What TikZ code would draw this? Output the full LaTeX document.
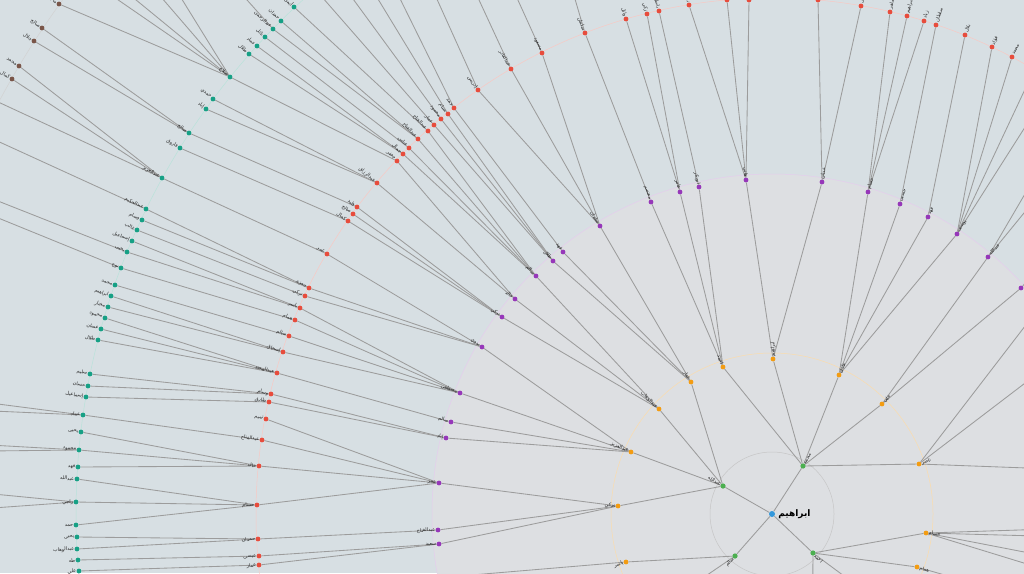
\documentclass[tikz,border=0pt]{standalone}
\usepackage{fontspec}
\usepackage{tikz}
\newfontfamily\arabicfont[Script=Arabic]{DejaVu Sans}
\TeXXeTstate=1
\definecolor{TreeBg}{RGB}{215,223,227}
\definecolor{TreeInner}{RGB}{221,223,226}
\definecolor{TreeEdge}{RGB}{156,156,156}
\definecolor{TreeRoot}{RGB}{52,152,219}
\definecolor{TreeGreen}{RGB}{76,175,80}
\definecolor{TreeOrange}{RGB}{243,156,18}
\definecolor{TreePurple}{RGB}{150,55,185}
\definecolor{TreeRed}{RGB}{231,76,60}
\definecolor{TreeTeal}{RGB}{22,160,133}
\definecolor{TreeBrown}{RGB}{121,85,72}
\pgfdeclarelayer{rings}
\pgfdeclarelayer{links}
\pgfsetlayers{rings,links,main}
\def\treecx{772}
\def\treecy{514}
% name label, turned away from the root
\newcommand\treelabel[4]{%
  \pgfmathsetmacro\lblang{atan2(\treecy-(#3),(#2)-\treecx)}%
  \pgfmathtruncatemacro\lblleft{abs(\lblang)>90}%
  \ifnum\lblleft=1
    \pgfmathsetmacro\lblrot{\lblang+180}%
    \node[namelbl, rotate=\lblrot, anchor=east] (#1-l) at (#1) {\beginR #4\endR};%
  \else
    \node[namelbl, rotate=\lblang, anchor=west] (#1-l) at (#1) {\beginR #4\endR};%
  \fi}

\begin{document}
\begin{tikzpicture}[x=1pt, y=-1pt,
    treedot/.style={circle, fill=#1, draw=none, inner sep=0pt, minimum size=4.8pt},
    link/.style={draw=TreeEdge, line width=0.85pt},
    namelbl/.style={font=\arabicfont\fontsize{4.9}{5.5}\selectfont, text=black!85, inner sep=0.3pt, outer sep=2.5pt},
    ringline/.style={draw=#1, line width=0.5pt}
  ]
  \useasboundingbox (0,0) rectangle (1024,573);
  \node[treedot=TreeRoot, minimum size=6pt] (c) at (\treecx,\treecy) {};
  \node[font=\arabicfont\bfseries\fontsize{9}{10}\selectfont, anchor=west, inner sep=0.5pt] (c-l) at ([xshift=2.5pt]c.east) {\beginR ابراهيم\endR};

  % rings
  \begin{pgfonlayer}{rings}
    \fill[TreeBg] (0,0) rectangle (1024,573);
    \fill[TreeInner] (c) circle[radius=340pt];
    \draw[ringline=white!70!gray] (c) circle[radius=5.5pt];
    \draw[ringline=gray!45] (c) circle[radius=62pt];
    \draw[ringline=TreeOrange!35] (c) circle[radius=161pt];
    \draw[ringline=TreePurple!25] (c) circle[radius=340pt];
    \draw[ringline=TreeRed!30] (c) circle[radius=516pt];
    \draw[ringline=TreeTeal!30] (c) circle[radius=696pt];
    \draw[ringline=gray!35] (c) circle[radius=876pt];
  \end{pgfonlayer}

  % level 1
  \foreach \n/\x/\y/\nm in {g1/803/466/محمد, g2/723/486/عبدالله, g3/735/556/سالم, g4/813/553/احمد}{
    \node[treedot=TreeGreen, minimum size=5.2pt] (\n) at (\x,\y) {};
    \treelabel{\n}{\x}{\y}{\nm}
    \begin{pgfonlayer}{links}\draw[link] (c) -- (\n);\end{pgfonlayer}
  }

  % level 2
  \foreach \n/\x/\y/\nm/\up in {o1/626/562/ياسر/g3, o2/618/506/تركي/g2, o3/631/452/عبدالعزيز/g2,
      o4/659/409/عبدالوهاب/g2, o5/691/382/عمار/g2, o6/723/367/احمد/g1, o7/773/359/ابراهيم/g1,
      o8/839/375/عادل/g1, o9/882/404/علي/g1, o10/919/464/ناصر/g1, o11/926/533/حسام/g4,
      o12/917/567/همام/g4}{
    \node[treedot=TreeOrange] (\n) at (\x,\y) {};
    \treelabel{\n}{\x}{\y}{\nm}
    \begin{pgfonlayer}{links}\draw[link] (\up) -- (\n);\end{pgfonlayer}
  }
  \foreach \n/\x/\y/\up in {o13/812/674/g4, o14/894/613/g4, o15/650/614/g3}{
    \node[treedot=TreeOrange] (\n) at (\x,\y) {};
    \begin{pgfonlayer}{links}\draw[link] (\up) -- (\n);\end{pgfonlayer}
  }

  % level 3
  \foreach \n/\x/\y/\nm/\up in {p1/439/544/سعيد/o2, p2/438/530/عبدالفتاح/o2, p3/439/483/عمر/o2,
      p4/446/438/إياد/o3, p5/451/422/سالم/o3, p6/460/393/مصطفى/o3, p7/482/347/بدوي/o3,
      p8/502/317/تركي/o4, p9/515/299/خالد/o4, p10/536/276/سالم/o4,
      p11/553/261/طلال/o5, p12/563/252/فهد/o5, p13/600/226/سلمان/o5,
      p14/651/202/معتصم/o6, p15/680/192/عامر/o6, p16/699/187/ابوبكر/o6,
      p17/746/180/هاني/o7, p18/822/182/عدنان/o7,
      p19/868/192/حسام/o8, p20/900/204/حسين/o8, p21/928/217/فهد/o8, p22/957/234/يوسف/o8,
      p23/988/257/عبدالله/o9}{
    \node[treedot=TreePurple] (\n) at (\x,\y) {};
    \treelabel{\n}{\x}{\y}{\nm}
    \begin{pgfonlayer}{links}\draw[link] (\up) -- (\n);\end{pgfonlayer}
  }
  \foreach \n/\x/\y/\up in {p24/1021/288/o9, p25/1042/304/o10, p26/1071/348/o10, p27/1108/471/o10,
      p28/1112/527/o11, p29/1112/538/o11, p30/1107/568/o11, p31/1102/587/o11,
      p32/1100/620/o12, p33/436/578/o1}{
    \node[treedot=TreePurple] (\n) at (\x,\y) {};
    \begin{pgfonlayer}{links}\draw[link] (\up) -- (\n);\end{pgfonlayer}
  }

  % level 4
  \foreach \n/\x/\y/\nm/\up in {r1/259/565/عمار/p1, r2/259/556/عيسى/p1, r3/258/539/حمدان/p2,
      r4/257/505/حسام/p3, r5/259/466/خالد/p3, r6/262/440/عبدالفتاح/p3, r7/266/419/تميم/p3,
      r8/269/402/طارق/p4, r9/271/394/وسام/p4, r10/277/373/عبدالمجيد/p5,
      r11/283/352/إسحاق/p6, r12/289/336/سالم/p6, r13/295/320/همام/p6, r14/300/308/ياسر/p6,
      r15/305/296/تركي/p7, r16/309/288/حمزة/p7, r17/327/254/عمر/p7,
      r18/348/221/كمال/p8, r19/353/214/صالح/p8, r20/357/207/وليد/p8,
      r21/377/183/عبدالرزاق/p9, r22/397/161/جعفر/p9,
      r23/403/154/جمال/p10, r24/409/148/عباس/p10, r25/418/139/عبدالفتاح/p10, r26/428/131/عبدالفتاح/p10,
      r27/434/125/عمار/p11, r28/441/119/محمود/p11, r29/448/114/بسام/p11, r30/454/108/حمد/p12,
      r31/478/90/إدريس/p13, r32/511/69/عبدالقادر/p13, r33/542/53/مسعود/p13,
      r34/585/33/سلمان/p14, r35/626/19/وائل/p15, r36/647/14/زكي/p15, r37/659/11/باسل/p16,
      r38/689/5/نبيل/p17, r39/727/0/شادي/p17, r40/749/0/رامي/p17,
      r41/818/0/منير/p18, r42/861/6/خليل/p18,
      r43/890/12/ماهر/p19, r44/907/16/ابراهيم/p19, r45/924/21/زياد/p19,
      r46/936/25/سلطان/p20, r47/965/35/بلال/p21, r48/992/47/فؤاد/p22, r49/1012/57/محمد/p22}{
    \node[treedot=TreeRed] (\n) at (\x,\y) {};
    \treelabel{\n}{\x}{\y}{\nm}
    \begin{pgfonlayer}{links}\draw[link] (\up) -- (\n);\end{pgfonlayer}
  }
  \foreach \n/\x/\y/\up in {r50/1035/68/p22, r51/1055/80/p22, r52/1080/100/p23, r53/1100/120/p23,
      r54/1140/150/p24}{
    \node[treedot=TreeRed] (\n) at (\x,\y) {};
    \begin{pgfonlayer}{links}\draw[link] (\up) -- (\n);\end{pgfonlayer}
  }

  % level 5
  \foreach \n/\x/\y/\nm/\up in {t1/294/7/أيمن/r26, t2/281/21/حمدان/r25, t3/273/29/عبدالرحمن/r25,
      t4/265/37/نائل/r24, t5/257/46/عماد/r23, t6/249/54/طلال/r23, t7/230/77/صلاح/r22,
      t8/213/99/حمدي/r21, t9/206/109/إياد/r21, t10/189/133/صالح/r20, t11/180/148/فاروق/r18,
      t12/162/178/عبدالعزيز/r17, t13/146/209/عبدالحكيم/r16, t14/142/220/وسام/r16,
      t15/137/230/غالب/r15, t16/132/241/إسماعيل/r14, t17/127/252/يحيى/r14, t18/121/268/نوح/r13,
      t19/115/285/محمد/r12, t20/111/296/ابراهيم/r11, t21/108/307/مختار/r11,
      t22/105/318/محمود/r10, t23/101/329/غسان/r10, t24/98/340/طلال/r10,
      t25/90/374/سليم/r9, t26/88/386/حسان/r9, t27/86/397/إسماعيل/r8, t28/83/415/عماد/r6,
      t29/81/432/يحيى/r5, t30/79/450/محمود/r5, t31/78/467/فهد/r5,
      t32/77/479/عبدالله/r4, t33/76/502/راجي/r4, t34/76/525/حمد/r4,
      t35/77/537/يحيى/r3, t36/77/549/عبدالوهاب/r3, t37/78/560/طه/r2, t38/79/571/علي/r1}{
    \node[treedot=TreeTeal] (\n) at (\x,\y) {};
    \treelabel{\n}{\x}{\y}{\nm}
    \begin{pgfonlayer}{links}\draw[link] (\up) -- (\n);\end{pgfonlayer}
  }
  \foreach \n/\x/\y/\up in {t39/315/-11/r27, t40/334/-27/r28, t41/353/-42/r29, t42/373/-56/r30,
      t43/403/-76/r31, t44/435/-95/r32, t45/467/-112/r33, t46/534/-140/r34}{
    \node[treedot=TreeTeal] (\n) at (\x,\y) {};
    \begin{pgfonlayer}{links}\draw[link] (\up) -- (\n);\end{pgfonlayer}
  }

  % level 6
  \foreach \n/\x/\y/\nm/\up in {b1/59/4/ماجد/t7, b2/42/28/صالح/t10, b3/34/41/جلال/t10,
      b4/19/66/محمد/t12, b5/12/79/كمال/t12}{
    \node[treedot=TreeBrown] (\n) at (\x,\y) {};
    \treelabel{\n}{\x}{\y}{\nm}
    \begin{pgfonlayer}{links}\draw[link] (\up) -- (\n);\end{pgfonlayer}
  }
  \foreach \n/\x/\y/\up in {b6/-4/101/t12, b7/-18/134/t13, b8/-40/186/t17, b9/-46/200/t18,
      b10/-95/392/t28, b11/-97/407/t28, b12/-100/440/t30, b13/-101/452/t30,
      b14/-100/485/t33, b15/-104/515/t33, b16/82/-25/t7, b17/91/-37/t7,
      b18/111/-61/t7, b19/131/-83/t7, b20/153/-105/t3}{
    \node[treedot=TreeBrown] (\n) at (\x,\y) {};
    \begin{pgfonlayer}{links}\draw[link] (\up) -- (\n);\end{pgfonlayer}
  }
\end{tikzpicture}
\end{document}
